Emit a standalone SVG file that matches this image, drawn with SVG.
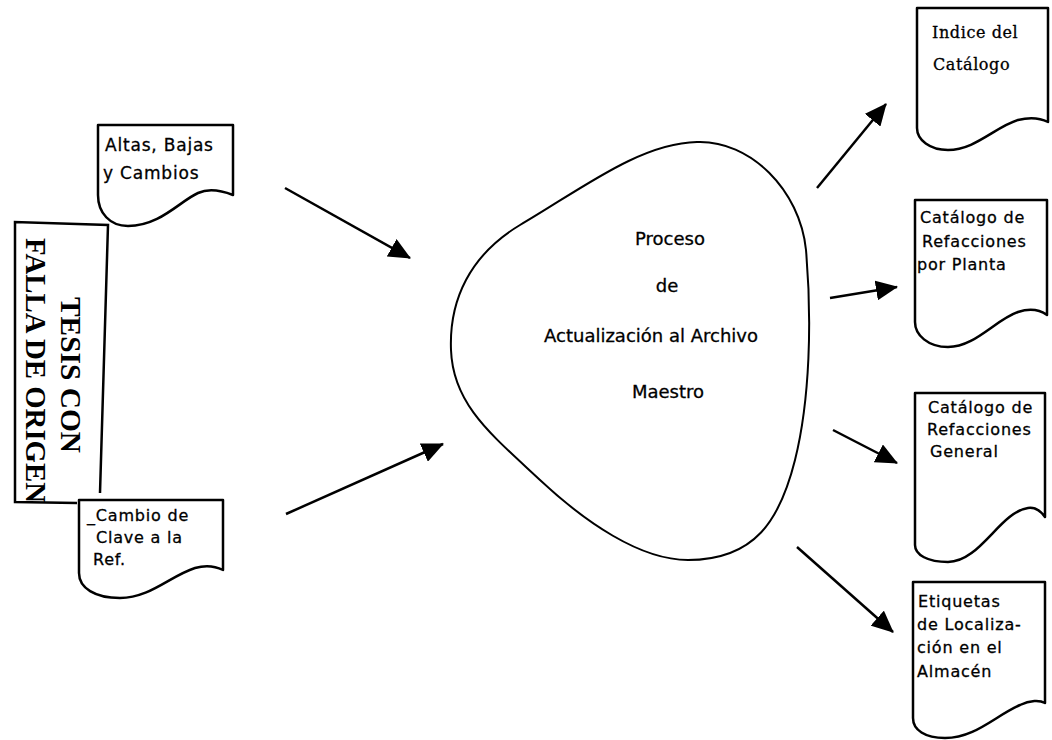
<svg xmlns="http://www.w3.org/2000/svg" width="1052" height="740" viewBox="0 0 1052 740">
<style>
.doc{fill:none;stroke:#000;stroke-width:2.5;stroke-linejoin:round}
.blob{fill:none;stroke:#000;stroke-width:2}
.edge{stroke:#000;stroke-width:2.5;fill:none;marker-end:url(#ah)}
.t{font-family:"DejaVu Sans","Liberation Sans",sans-serif;font-size:16px;letter-spacing:0.8px;fill:#000;stroke:#000;stroke-width:0.3}
.t16{font-size:17px;letter-spacing:0.8px}
.ts{font-family:"DejaVu Serif","Liberation Serif",serif;font-size:16px;letter-spacing:0.6px;fill:#000;stroke:#000;stroke-width:0.3}
.tb{font-family:"DejaVu Sans","Liberation Sans",sans-serif;font-size:18px;fill:#000;stroke:#000;stroke-width:0.3;text-anchor:middle}
.stamp{fill:none;stroke:#000;stroke-width:2.5}
.st{font-family:"Liberation Serif","DejaVu Serif",serif;font-size:29px;font-weight:bold;fill:#000}
</style>
<defs>
<marker id="ah" markerUnits="userSpaceOnUse" markerWidth="22" markerHeight="20" viewBox="0 0 22 20" refX="21" refY="10" orient="auto">
<path d="M0,0 L22,10 L0,20 Z" fill="#000"/>
</marker>
</defs>
<rect width="1052" height="740" fill="#fff"/>

<g id="stamp">
<path class="stamp" d="M100,493 L108,225 L15,222 L15,502 L77,503"/>
<text class="st" transform="translate(61,297) rotate(90)" textLength="156" lengthAdjust="spacingAndGlyphs">TESIS CON</text>
<text class="st" transform="translate(26,238) rotate(90)" textLength="265" lengthAdjust="spacingAndGlyphs">FALLA DE ORIGEN</text>
</g>

<g id="doc-altas">
<path class="doc" d="M98,125 H233 V195 C220,190 207,189 198,193 C180,201 160,226 128,226 C110,226 98,213 98,195 Z"/>
<text class="t t16" x="105" y="151">Altas, Bajas</text>
<text class="t t16" x="103" y="179">y Cambios</text>
</g>

<g id="doc-cambio">
<path class="doc" d="M79,500 H223 V570 C215,566 205,565 195,568 C170,576 150,598 120,598 C95,598 79,588 79,573 Z"/>
<text class="t" x="87" y="521">_Cambio de</text>
<text class="t" x="96" y="543">Clave a la</text>
<text class="t" x="93" y="565">Ref.</text>
</g>

<g id="proceso">
<path class="blob" d="M697,142 C750,140 800,190 806,250 C812,320 810,400 795,460 C780,520 755,560 688,560 C640,560 585,522 540,480 C492,435 453,405 451,350 C449,300 470,255 520,225 C580,190 640,143 697,142 Z"/>
<text class="tb" x="670" y="245">Proceso</text>
<text class="tb" x="667" y="292">de</text>
<text class="tb" x="651" y="342">Actualización al Archivo</text>
<text class="tb" x="668" y="398">Maestro</text>
</g>

<g id="doc-indice">
<path class="doc" d="M917,8 H1048 V122 C1040,118 1030,117 1018,120 C995,127 975,150 948,150 C930,150 917,140 917,128 Z"/>
<text class="ts" x="932" y="38">Indice del</text>
<text class="ts" x="933" y="70">Catálogo</text>
</g>

<g id="doc-planta">
<path class="doc" d="M915,200 H1047 V315 C1040,310 1030,308 1018,312 C995,320 975,347 948,347 C928,347 915,335 915,322 Z"/>
<text class="t" x="920" y="223">Catálogo de</text>
<text class="t" x="922" y="247">Refacciones</text>
<text class="t" x="917" y="270">por Planta</text>
</g>

<g id="doc-general">
<path class="doc" d="M915,393 H1045 V517 C1040,510 1035,507 1028,508 C1000,512 980,562 948,562 C928,562 915,555 915,545 Z"/>
<text class="t" x="928" y="413">Catálogo de</text>
<text class="t" x="927" y="435">Refacciones</text>
<text class="t" x="930" y="457">General</text>
</g>

<g id="doc-etiquetas">
<path class="doc" d="M913,582 H1045 V703 C1040,700 1030,700 1020,705 C995,716 975,738 945,738 C925,738 913,730 913,718 Z"/>
<text class="t" x="918" y="607">Etiquetas</text>
<text class="t" x="917" y="630">de Localiza-</text>
<text class="t" x="917" y="653">ción en el</text>
<text class="t" x="917" y="677">Almacén</text>
</g>

<g id="connectors">
<line class="edge" x1="285" y1="188" x2="410" y2="258"/>
<line class="edge" x1="286" y1="514" x2="443" y2="444"/>
<line class="edge" x1="817" y1="188" x2="886" y2="104"/>
<line class="edge" x1="830" y1="298" x2="897" y2="287"/>
<line class="edge" x1="833" y1="430" x2="897" y2="463"/>
<line class="edge" x1="797" y1="547" x2="893" y2="632"/>
</g>
</svg>
